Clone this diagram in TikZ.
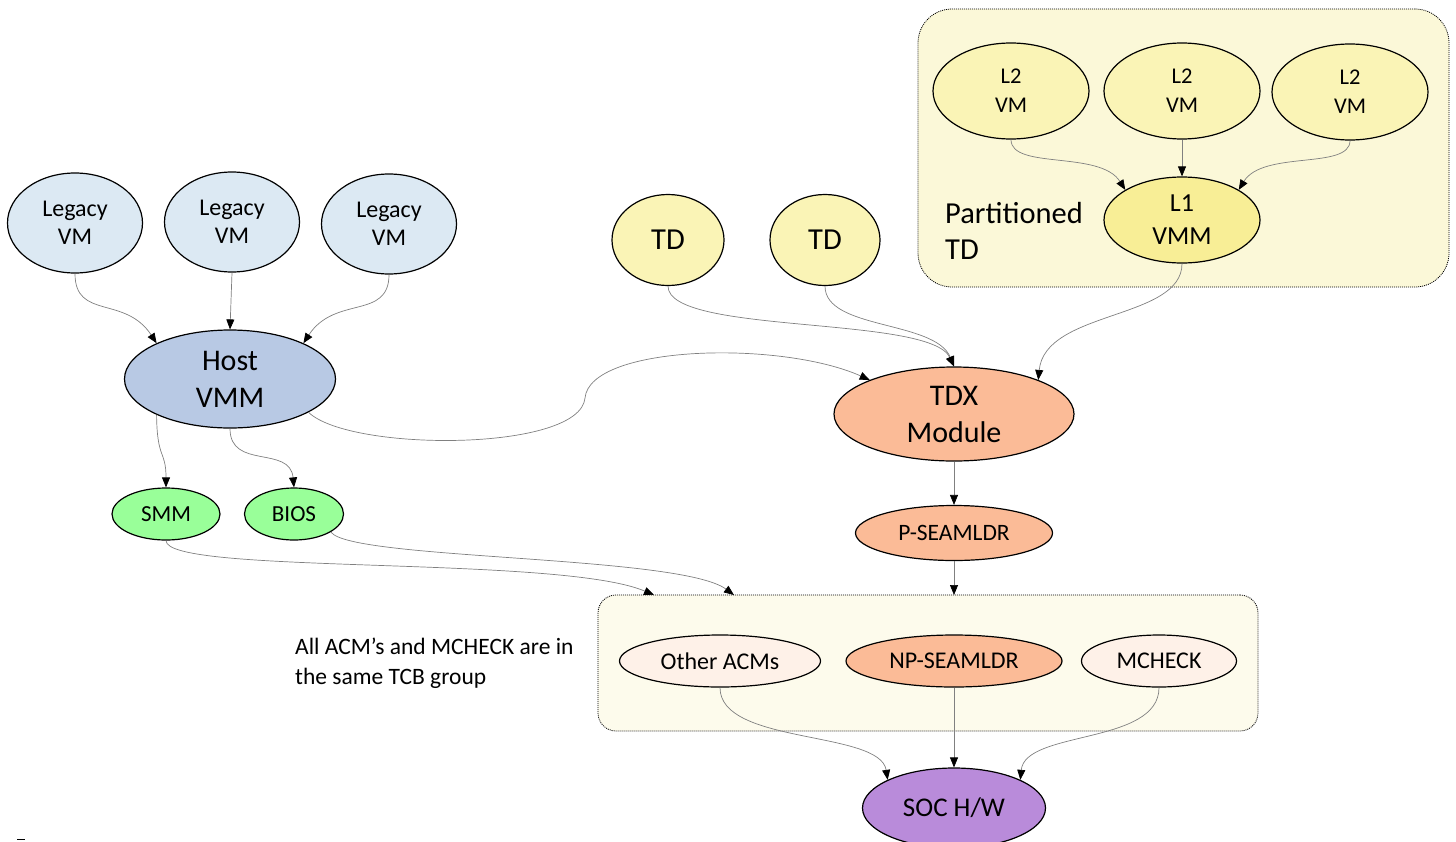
\documentclass[tikz,border=0pt]{standalone}
\usepackage{fontspec}
\setmainfont{Carlito}
\usetikzlibrary{shapes.geometric,arrows.meta}
\definecolor{legacy}{HTML}{DCE9F3}
\definecolor{hostc}{HTML}{B8C9E4}
\definecolor{greenc}{HTML}{99FF99}
\definecolor{tdc}{HTML}{FAF4B6}
\definecolor{l1c}{HTML}{F8EE96}
\definecolor{salmon}{HTML}{FBBB97}
\definecolor{peach}{HTML}{FEF1E8}
\definecolor{socc}{HTML}{B98BDA}
\definecolor{partc}{HTML}{FBF8D8}
\definecolor{grpc}{HTML}{FDFBEC}
\definecolor{edgec}{HTML}{808080}
\newcommand{\setfs}[2]{\fontsize{#1}{#2}\selectfont}
\begin{document}
\begin{tikzpicture}[x=1pt,y=-1pt,
  ell/.style={ellipse, draw=black, line width=1.2pt, inner sep=0pt, align=center},
  grpbox/.style={rectangle, draw=black, line width=0.8pt, dash pattern=on 1pt off 1pt, inner sep=0pt},
  conn/.style={draw=edgec, line width=0.7pt, -{Triangle[length=10pt,width=8pt,color=black]}},
  lbl/.style={inner sep=0pt, align=left}]
\useasboundingbox (0,0) rectangle (1456,841);
% group boxes
\node[grpbox, fill=partc, rounded corners=34pt, minimum width=531, minimum height=278] (part) at (1183.5,148) {};
\node[grpbox, fill=grpc, rounded corners=18pt, minimum width=660, minimum height=136] (grp) at (928,663) {};
% legacy VMs
\node[ell, fill=legacy, minimum width=135, minimum height=100, font=\setfs{24}{28}] (lv1) at (75,223) {Legacy\\VM};
\node[ell, fill=legacy, minimum width=135, minimum height=100, font=\setfs{24}{28}] (lv2) at (232,222) {Legacy\\VM};
\node[ell, fill=legacy, minimum width=135, minimum height=100, font=\setfs{24}{28}] (lv3) at (389,224) {Legacy\\VM};
\node[ell, fill=hostc, minimum width=211, minimum height=98, font=\setfs{30}{37}] (host) at (230,379) {Host\\VMM};
\node[ell, fill=greenc, minimum width=108, minimum height=52, font=\setfs{23}{26}] (smm) at (166,514) {SMM};
\node[ell, fill=greenc, minimum width=99, minimum height=52, font=\setfs{23}{26}] (bios) at (294,514) {BIOS};
% TDs
\node[ell, fill=tdc, minimum width=112, minimum height=91, font=\setfs{30.5}{34}] (td1) at (668,240) {TD};
\node[ell, fill=tdc, minimum width=110, minimum height=91, font=\setfs{30.5}{34}] (td2) at (825,240) {TD};
\node[ell, fill=salmon, minimum width=240, minimum height=94, font=\setfs{30}{37}] (tdx) at (954,414) {TDX\\Module};
\node[ell, fill=salmon, minimum width=197, minimum height=55, font=\setfs{23.5}{28}] (pse) at (954,533) {P-SEAMLDR};
% partitioned TD
\node[ell, fill=tdc, minimum width=156, minimum height=96, font=\setfs{22.5}{29}] (l2a) at (1011,91) {L2\\VM};
\node[ell, fill=tdc, minimum width=156, minimum height=96, font=\setfs{22.5}{29}] (l2b) at (1182,91) {L2\\VM};
\node[ell, fill=tdc, minimum width=156, minimum height=96, font=\setfs{22.5}{29}] (l2c) at (1350,92) {L2\\VM};
\node[ell, fill=l1c, minimum width=156, minimum height=86, font=\setfs{26}{33}] (l1) at (1182,220) {L1\\VMM};
\node[lbl, anchor=north west, font=\setfs{30.5}{36}] (ptd) at (945,202) {Partitioned\\TD};
% TCB group
\node[ell, fill=peach, minimum width=201, minimum height=52, font=\setfs{24}{28}] (oacm) at (720,661) {Other ACMs};
\node[ell, fill=salmon, minimum width=216, minimum height=52, font=\setfs{24}{28}] (npsl) at (954,661) {NP-SEAMLDR};
\node[ell, fill=peach, minimum width=155, minimum height=52, font=\setfs{24}{28}] (mchk) at (1159,661) {MCHECK};
\node[ell, fill=socc, minimum width=183, minimum height=80, font=\setfs{27}{30}] (soc) at (954,808) {SOC H/W};
\node[lbl, anchor=north west, font=\setfs{23.5}{30}] (note) at (295,638) {All ACM’s and MCHECK are in\\the same TCB group};
% connector end points on the group box
\coordinate (g1) at (654,595);
\coordinate (g2) at (734,595);
\coordinate (g3) at (954,595);
\coordinate (hv) at (585,398);
% connectors
\draw[conn] (lv1.south) .. controls (75,320) and (125,295) .. (host.154);
\draw[conn] (lv2.south) -- (host.north);
\draw[conn] (lv3.south) .. controls (389,320) and (335,295) .. (host.26);
\draw[conn] (host.206) .. controls (157,460) and (166,450) .. (smm.north);
\draw[conn] (host.south) .. controls (230,470) and (290,445) .. (bios.north);
\draw[conn] (host.-23) .. controls (350,452) and (580,452) .. (hv) .. controls (590,345) and (780,340) .. (tdx.158);
\draw[conn] (td1.south) .. controls (668,335) and (930,315) .. (tdx.north);
\draw[conn] (td2.south) .. controls (825,330) and (935,320) .. (tdx.north);
\draw[conn] (l1.south) .. controls (1182,320) and (1045,310) .. (tdx.22);
\draw[conn] (tdx.south) -- (pse.north);
\draw[conn] (pse.south) -- (g3);
\draw[conn] (smm.south) .. controls (166,575) and (560,555) .. (g1);
\draw[conn] (bios.-26) .. controls (350,560) and (680,555) .. (g2);
\draw[conn] (oacm.south) .. controls (720,745) and (880,730) .. (soc.157);
\draw[conn] (npsl.south) -- (soc.north);
\draw[conn] (mchk.south) .. controls (1159,745) and (1025,730) .. (soc.23);
\draw[conn] (l2a.south) .. controls (1011,170) and (1100,150) .. (l1.152);
\draw[conn] (l2b.south) -- (l1.north);
\draw[conn] (l2c.south) .. controls (1350,170) and (1263,150) .. (l1.28);
% small mark bottom left
\draw[line width=1.5pt] (17,839.5) -- (25,839.5);
\end{tikzpicture}
\end{document}
